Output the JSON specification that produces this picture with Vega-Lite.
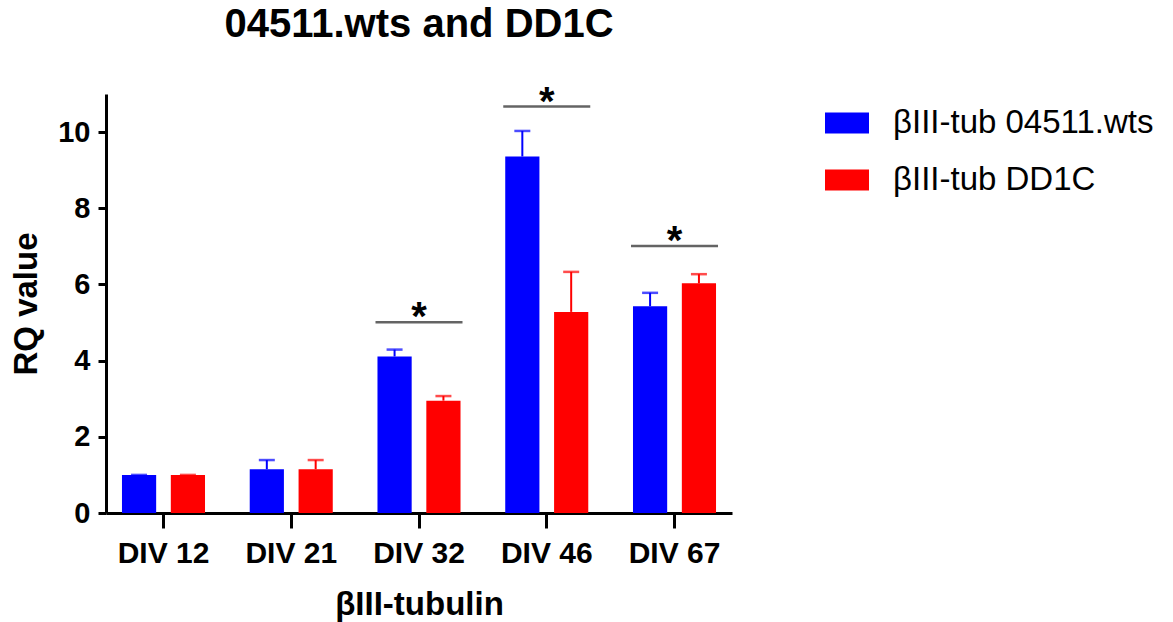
{
  "$schema": "https://vega.github.io/schema/vega-lite/v6.json",
  "width": 626,
  "height": 419,
  "autosize": "none",
  "padding": {"left": 106, "top": 94, "right": 441, "bottom": 109},
  "background": "white",
  "config": {
    "font": "Liberation Sans",
    "view": {"stroke": null},
    "axis": {"domainColor": "black", "tickColor": "black", "labelColor": "black", "titleColor": "black", "grid": false}
  },
  "title": {
    "text": "04511.wts and DD1C",
    "fontSize": 40,
    "fontWeight": "bold",
    "anchor": "middle",
    "baseline": "alphabetic",
    "offset": 6,
    "color": "black",
    "font": "Liberation Sans"
  },
  "datasets": {
    "bars": [
      {"div": "DIV 12", "series": "βIII-tub 04511.wts", "value": 1.0, "upper": 1.0},
      {"div": "DIV 12", "series": "βIII-tub DD1C", "value": 1.0, "upper": 1.0},
      {"div": "DIV 21", "series": "βIII-tub 04511.wts", "value": 1.15, "upper": 1.39},
      {"div": "DIV 21", "series": "βIII-tub DD1C", "value": 1.15, "upper": 1.39},
      {"div": "DIV 32", "series": "βIII-tub 04511.wts", "value": 4.11, "upper": 4.29},
      {"div": "DIV 32", "series": "βIII-tub DD1C", "value": 2.95, "upper": 3.07},
      {"div": "DIV 46", "series": "βIII-tub 04511.wts", "value": 9.36, "upper": 10.03},
      {"div": "DIV 46", "series": "βIII-tub DD1C", "value": 5.28, "upper": 6.33},
      {"div": "DIV 67", "series": "βIII-tub 04511.wts", "value": 5.43, "upper": 5.78},
      {"div": "DIV 67", "series": "βIII-tub DD1C", "value": 6.03, "upper": 6.27}
    ],
    "sig": [
      {"div": "DIV 32", "y": 5.01, "label": "*"},
      {"div": "DIV 46", "y": 10.67, "label": "*"},
      {"div": "DIV 67", "y": 7.01, "label": "*"}
    ]
  },
  "layer": [
    {
      "data": {"name": "bars"},
      "mark": {"type": "bar"},
      "encoding": {
        "x": {
          "field": "div", "type": "nominal", "sort": null,
          "scale": {"paddingInner": 0.35, "paddingOuter": 0.125},
          "axis": {
            "labelAngle": 0, "labelFontSize": 30, "labelFontWeight": "bold", "labelPadding": 10,
            "tickSize": 15, "tickWidth": 3, "domainWidth": 3,
            "title": "βIII-tubulin", "titleFontSize": 33, "titleFontWeight": "bold", "titlePadding": 20
          }
        },
        "xOffset": {"field": "series", "type": "nominal", "sort": null, "scale": {"paddingInner": 0.3, "paddingOuter": 0}},
        "y": {
          "field": "value", "type": "quantitative",
          "scale": {"domain": [0, 11], "nice": false},
          "axis": {
            "values": [0, 2, 4, 6, 8, 10], "labelFontSize": 29, "labelFontWeight": "bold", "labelPadding": 8,
            "tickSize": 8, "tickWidth": 3, "domainWidth": 3,
            "title": "RQ value", "titleFontSize": 33, "titleFontWeight": "bold", "titlePadding": 14
          }
        },
        "color": {
          "field": "series", "type": "nominal", "sort": null,
          "scale": {"domain": ["βIII-tub 04511.wts", "βIII-tub DD1C"], "range": ["#0000FF", "#FF0000"]},
          "legend": {
            "title": null, "orient": "none", "legendX": 719, "legendY": 7, "padding": 0,
            "labelFontSize": 33, "labelColor": "black", "labelFont": "Liberation Sans", "labelLimit": 500,
            "symbolType": "M-1,-0.477H1V0.477H-1Z", "symbolSize": 1936, "symbolStrokeWidth": 0,
            "labelOffset": 24, "rowPadding": 18
          }
        }
      }
    },
    {
      "data": {"name": "bars"},
      "mark": {"type": "rule", "strokeWidth": 2},
      "encoding": {
        "x": {"field": "div", "type": "nominal", "sort": null},
        "xOffset": {"field": "series", "type": "nominal", "sort": null},
        "y": {"field": "value", "type": "quantitative"},
        "y2": {"field": "upper"},
        "color": {"field": "series", "type": "nominal", "sort": null, "legend": null}
      }
    },
    {
      "data": {"name": "bars"},
      "mark": {"type": "tick", "orient": "horizontal", "size": 16, "thickness": 2.5},
      "encoding": {
        "x": {"field": "div", "type": "nominal", "sort": null},
        "xOffset": {"field": "series", "type": "nominal", "sort": null},
        "y": {"field": "upper", "type": "quantitative"},
        "color": {"field": "series", "type": "nominal", "sort": null, "legend": null}
      }
    },
    {
      "data": {"name": "sig"},
      "mark": {"type": "tick", "orient": "horizontal", "size": 87, "thickness": 2.5, "color": "#222222"},
      "encoding": {
        "x": {"field": "div", "type": "nominal", "sort": null},
        "y": {"field": "y", "type": "quantitative"}
      }
    },
    {
      "data": {"name": "sig"},
      "mark": {"type": "text", "fontSize": 40, "fontWeight": "bold", "baseline": "alphabetic", "dy": 8, "color": "black"},
      "encoding": {
        "x": {"field": "div", "type": "nominal", "sort": null},
        "y": {"field": "y", "type": "quantitative"},
        "text": {"field": "label"}
      }
    }
  ]
}
